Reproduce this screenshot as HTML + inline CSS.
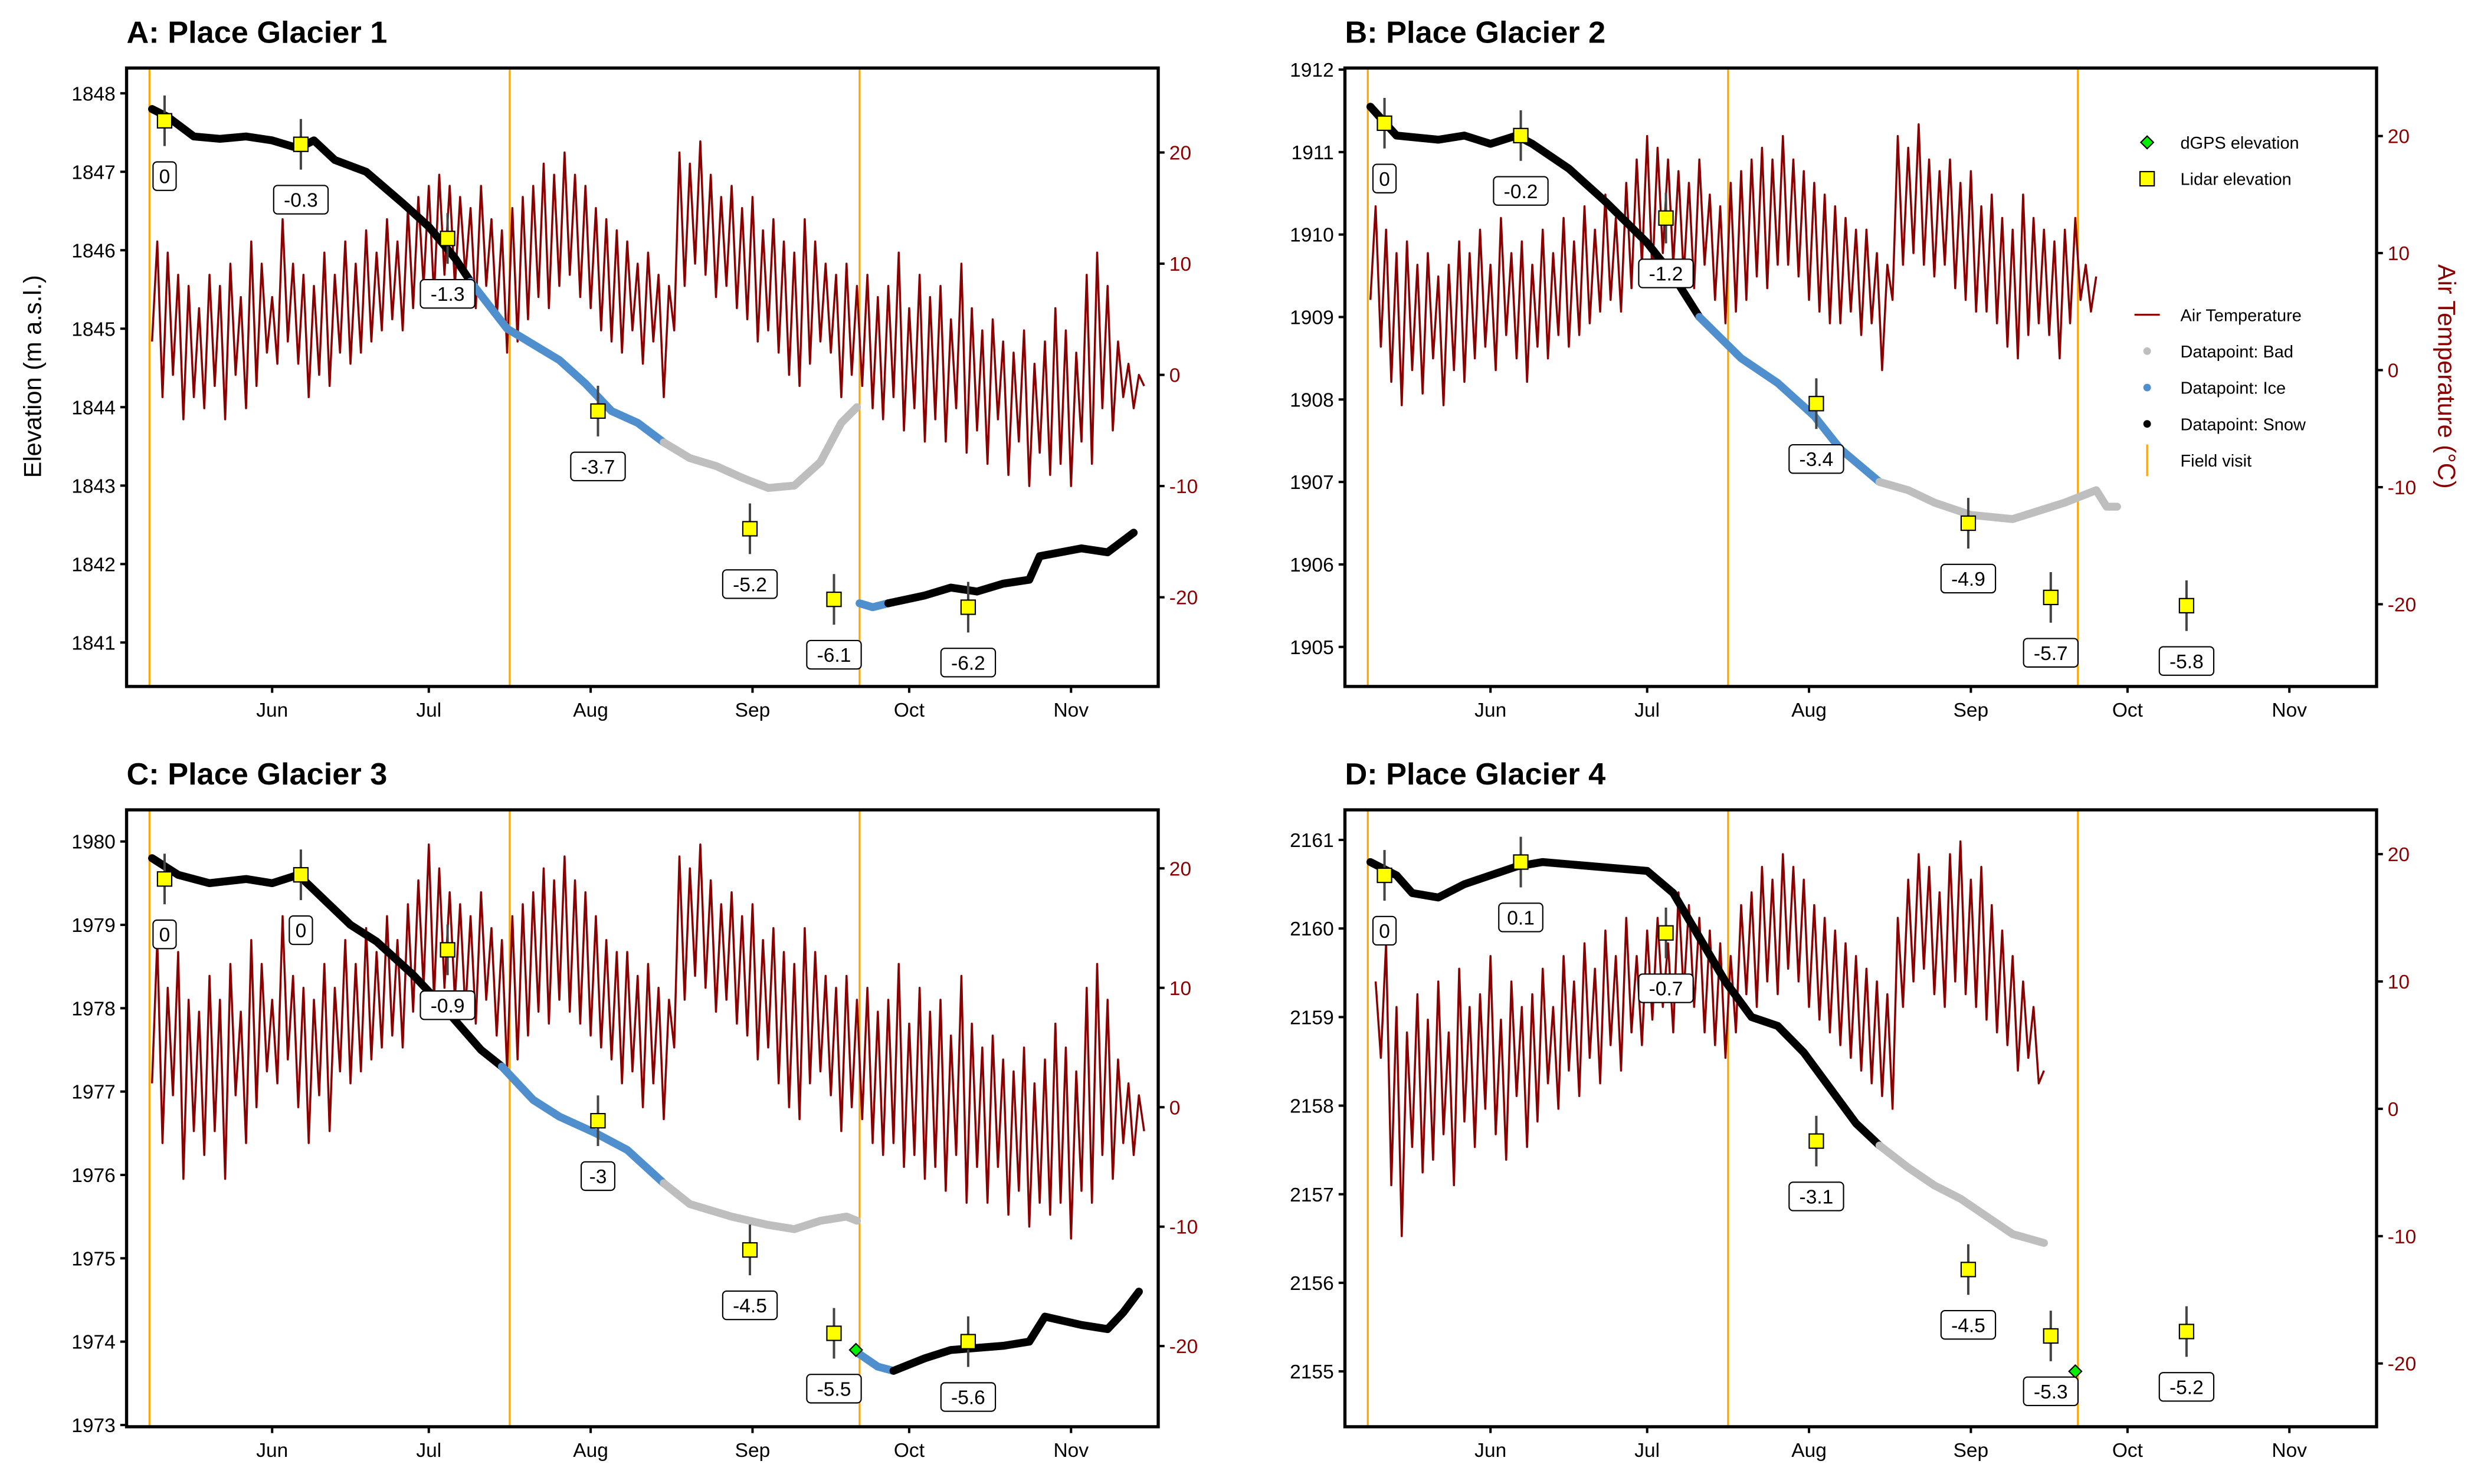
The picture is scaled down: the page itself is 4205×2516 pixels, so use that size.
<!DOCTYPE html>
<html><head><meta charset="utf-8"><title>Place Glacier elevation and air temperature</title>
<style>
html,body{margin:0;padding:0;background:#fff;}
svg{display:block;font-family:"Liberation Sans",Arial,sans-serif;}
</style></head>
<body>
<svg id="chart" width="4205" height="2516" viewBox="0 0 1568 938.2" preserveAspectRatio="none" xmlns="http://www.w3.org/2000/svg">
<rect x="0" y="0" width="1568" height="938.2" fill="#fff"/>
</svg>
<script>
// ===== Data (days counted from Jun 1) =====
const monthLabels = ["Jun","Jul","Aug","Sep","Oct","Nov"];
const monthDays = [0,30,61,92,122,153];
const fieldVisitDays = [-23.5,45.5,112.5];

// Panel A
const A_elevDays = [-23,-20,-15,-10,-5,0,5,8,12,18,25,30,35,38, 38,45,50,55,60,65,70,75, 75,80,85,90,95,100,105,109,112, 112.5,115,118, 118,125,130,135,140,145,147,155,160,165];
const A_elev = [1847.8,1847.7,1847.45,1847.42,1847.45,1847.4,1847.3,1847.4,1847.15,1847.0,1846.6,1846.3,1845.9,1845.6, 1845.6,1845.0,1844.8,1844.6,1844.3,1843.95,1843.8,1843.55, 1843.55,1843.35,1843.25,1843.1,1842.97,1843.0,1843.3,1843.8,1844.0, 1841.5,1841.45,1841.5, 1841.5,1841.6,1841.7,1841.65,1841.75,1841.8,1842.1,1842.2,1842.15,1842.4];
const A_cls = ["S","S","S","S","S","S","S","S","S","S","S","S","S","S","I","I","I","I","I","I","I","I","B","B","B","B","B","B","B","B","B","I","I","I","S","S","S","S","S","S","S","S","S","S"];
const A_lidarDays = [-20.6,5.5,33.6,62.4,91.5,107.6,133.3];
const A_lidarElev = [1847.65,1847.35,1846.15,1843.95,1842.45,1841.55,1841.45];
const A_lidarLabels = ["0","-0.3","-1.3","-3.7","-5.2","-6.1","-6.2"];
const A_gpsDays = [];
const A_gpsElev = [];
const A_tempStart = -23;
const A_temp = [3,12,-2,11,0,9,-4,8,-2,6, -3,9,-1,8,-4,10,0,7,-3,12, -1,10,2,7,1,14,3,10,1,9, -2,8,0,11,-1,9,2,12,1,10, 2,13,3,11,4,14,5,12,4,15, 6,16,8,17,7,18,9,17,8,16, 9,15,6,17,8,14,5,13,2,15, 3,16,5,17,7,19,6,18,8,20, 9,18,7,17,6,15,4,14,3,13, 2,12,4,10,1,11,3,9,-2,8, 4,20,8,19,10,21,9,18,7,16, 8,17,6,15,5,16,3,13,4,14, 2,12,0,11,-1,14,1,12,3,10, 2,9,-2,10,0,8,-1,9,-3,7, -4,8,-2,11,-5,6,-3,9,-6,7, -4,8,-6,5,-3,10,-7,6,-5,4, -8,5,-4,3,-9,2,-6,4,-10,1, -7,3,-9,6,-8,4,-10,2,-6,9, -8,11,-3,8,-5,3,-2,1,-3,0, -1];

// Panel B
const B_elevDays = [-23,-18,-10,-5,0,5,8,15,22,30,35,40, 40,48,55,62,67,74.5, 74.5,80,85,92,100,105,110,116,118,120];
const B_elev = [1911.55,1911.2,1911.15,1911.2,1911.1,1911.2,1911.1,1910.8,1910.4,1909.9,1909.5,1909.0, 1909.0,1908.5,1908.2,1907.8,1907.4,1907.0, 1907.0,1906.9,1906.75,1906.6,1906.55,1906.65,1906.75,1906.9,1906.7,1906.7];
const B_cls = ["S","S","S","S","S","S","S","S","S","S","S","S","I","I","I","I","I","I","B","B","B","B","B","B","B","B","B","B"];
const B_lidarDays = [-20.3,5.8,33.6,62.4,91.5,107.3,133.3];
const B_lidarElev = [1911.35,1911.2,1910.2,1907.95,1906.5,1905.6,1905.5];
const B_lidarLabels = ["0","-0.2","-1.2","-3.4","-4.9","-5.7","-5.8"];
const B_gpsDays = [];
const B_gpsElev = [];
const B_tempStart = -23;
const B_temp = [6,14,2,12,-1,10,-3,11,0,9, -2,10,1,8,-3,9,0,11,-1,10, 1,12,2,9,0,13,3,10,1,11, -1,9,2,12,1,10,3,13,2,11, 3,14,4,12,5,15,6,13,5,16, 7,18,9,20,8,19,10,18,9,17, 8,16,7,18,9,15,6,14,4,16, 5,17,6,18,8,19,7,18,9,20, 9,18,8,17,6,16,5,15,4,14, 4,13,5,12,3,12,4,10,0,9, 6,20,9,19,10,21,9,18,8,17, 9,18,7,16,6,17,5,14,5,15, 4,13,2,12,1,15,3,13,4,12, 3,11,1,12,4,13,6,9,5,8];

// Panel C
const C_elevDays = [-23,-18,-12,-5,0,5,10,15,20,27,33,40,44, 44,50,55,62,68,75, 75,80,88,95,100,105,110,112, 112.5,116,119, 119,125,130,140,145,148,155,160,163,166];
const C_elev = [1979.8,1979.6,1979.5,1979.55,1979.5,1979.6,1979.3,1979.0,1978.8,1978.4,1978.0,1977.5,1977.3, 1977.3,1976.9,1976.7,1976.5,1976.3,1975.9, 1975.9,1975.65,1975.5,1975.4,1975.35,1975.45,1975.5,1975.45, 1973.85,1973.7,1973.65, 1973.65,1973.8,1973.9,1973.95,1974.0,1974.3,1974.2,1974.15,1974.35,1974.6];
const C_cls = ["S","S","S","S","S","S","S","S","S","S","S","S","S","I","I","I","I","I","I","B","B","B","B","B","B","B","B","I","I","I","S","S","S","S","S","S","S","S","S","S"];
const C_lidarDays = [-20.6,5.5,33.6,62.4,91.5,107.6,133.3];
const C_lidarElev = [1979.55,1979.6,1978.7,1976.65,1975.1,1974.1,1974.0];
const C_lidarLabels = ["0","0","-0.9","-3","-4.5","-5.5","-5.6"];
const C_gpsDays = [111.8];
const C_gpsElev = [1973.9];
const C_tempStart = -23;
const C_temp = [2,14,-3,10,1,13,-6,9,-2,8, -4,11,-2,9,-6,12,1,8,-3,14, 0,12,3,9,2,16,4,11,0,10, -3,9,1,12,-2,10,3,14,2,12, 3,15,4,13,5,16,6,14,5,17, 8,19,10,22,9,20,10,18,9,17, 8,16,7,18,9,15,6,14,3,16, 4,17,6,18,8,20,7,19,9,21, 8,19,7,18,6,16,5,14,4,13, 2,13,3,11,0,12,2,10,-1,9, 5,21,9,20,11,22,10,19,8,17, 9,18,7,16,6,17,4,14,5,15, 2,13,0,12,-1,15,2,13,3,11, 1,10,-2,11,0,9,-1,10,-3,8, -4,9,-3,12,-5,7,-4,10,-6,8, -5,9,-7,6,-4,11,-8,7,-5,5, -8,6,-5,4,-9,3,-7,5,-10,2, -8,4,-9,7,-8,5,-11,3,-7,10, -8,12,-4,9,-6,4,-3,2,-4,1, -2];

// Panel D
const D_elevDays = [-23,-18,-15,-10,-5,0,5,10,20,30,35,40,45,50,55,60,65,70,74.5, 74.5,80,85,90,95,100,106];
const D_elev = [2160.75,2160.6,2160.4,2160.35,2160.5,2160.6,2160.7,2160.75,2160.7,2160.65,2160.4,2159.9,2159.4,2159.0,2158.9,2158.6,2158.2,2157.8,2157.55, 2157.55,2157.3,2157.1,2156.95,2156.75,2156.55,2156.45];
const D_cls = ["S","S","S","S","S","S","S","S","S","S","S","S","S","S","S","S","S","S","S","B","B","B","B","B","B","B"];
const D_lidarDays = [-20.3,5.8,33.6,62.4,91.5,107.3,133.3];
const D_lidarElev = [2160.6,2160.75,2159.95,2157.6,2156.15,2155.4,2155.45];
const D_lidarLabels = ["0","0.1","-0.7","-3.1","-4.5","-5.3","-5.2"];
const D_gpsDays = [112];
const D_gpsElev = [2155.0];
const D_tempStart = -22;
const D_temp = [10,4,13,-6,8,-10,6,-3,9,-5, 7,-4,10,-2,6,-6,11,-1,8,-3, 9,0,12,-2,7,-4,10,1,8,-3, 9,-1,11,2,8,0,12,3,10,1, 13,4,11,2,14,5,12,3,15,6, 12,5,14,7,15,8,13,6,17,9, 16,8,15,6,14,5,13,4,12,6, 16,9,17,8,19,10,18,9,20,11, 19,10,18,8,16,7,15,6,14,5, 13,4,12,3,11,2,10,1,9,0, 15,8,18,10,20,11,19,9,17,8, 20,10,21,9,18,8,19,7,16,6, 14,5,12,3,10,4,8,2,3];

const A_elevTicks=[1841,1842,1843,1844,1845,1846,1847,1848];
const B_elevTicks=[1905,1906,1907,1908,1909,1910,1911,1912];
const C_elevTicks=[1973,1974,1975,1976,1977,1978,1979,1980];
const D_elevTicks=[2155,2156,2157,2158,2159,2160,2161];
const tempTicks=[-20,-10,0,10,20];

// ===== Drawing =====
const NS="http://www.w3.org/2000/svg";
const svg=document.getElementById('chart');
function mk(tag,attrs,parent){const e=document.createElementNS(NS,tag);for(const k in attrs)e.setAttribute(k,attrs[k]);(parent||svg).appendChild(e);return e;}
const RED="#8B0000", COL={S:"#000000",I:"#4F8FCE",B:"#BEBEBE"};

function drawPanel(cfg,d){
  const g=mk('g',{});
  
  
  const X=day=>cfg.jun+day*3.3;
  const YE=e=>cfg.eRefY+(cfg.eRef-e)*cfg.ePer;
  const YT=t=>cfg.tZeroY-t*cfg.tPer;
  const title=mk('text',{x:cfg.x0,y:cfg.y0-16,'font-size':19.5,'font-weight':'bold',fill:'#000'},g);
  title.textContent=cfg.title;
  
  
  const cp=mk('clipPath',{id:'clip'+cfg.id},g);
  mk('rect',{x:cfg.x0,y:cfg.y0,width:cfg.x1-cfg.x0,height:cfg.y1-cfg.y0},cp);
  const plot=mk('g',{'clip-path':'url(#clip'+cfg.id+')'},g);
  fieldVisitDays.forEach(fd=>{
    const l=mk('line',{x1:X(fd),x2:X(fd),y1:cfg.y0,y2:cfg.y1,stroke:'#FFA500','stroke-width':1.2},plot);
    
    
  });
  const pts=d.temp.map((t,i)=>X(d.tempStart+i).toFixed(2)+','+YT(t).toFixed(2)).join(' ');
  const tl=mk('polyline',{points:pts,fill:'none',stroke:RED,'stroke-width':1.3,'stroke-linejoin':'round'},plot);
  
  
  let i=0;
  while(i<d.days.length){
    let j=i;while(j+1<d.days.length&&d.cls[j+1]===d.cls[i])j++;
    const p=[];for(let k=i;k<=j;k++)p.push(X(d.days[k]).toFixed(2)+','+YE(d.elev[k]).toFixed(2));
    const s=mk('polyline',{points:p.join(' '),fill:'none',stroke:COL[d.cls[i]],'stroke-width':5,'stroke-linecap':'round','stroke-linejoin':'round'},plot);
    
    
    i=j+1;
  }
  d.gpsDays.forEach((gd,k)=>{
    const x=X(gd),y=YE(d.gpsElev[k]);
    const p=mk('polygon',{points:`${x},${y-4} ${x+4},${y} ${x},${y+4} ${x-4},${y}`,fill:'#00EE00',stroke:'#000','stroke-width':0.8},g);
    
    
  });
  d.lidarDays.forEach((ld,k)=>{
    const x=X(ld),y=YE(d.lidarElev[k]);
    const eb=mk('line',{x1:x,x2:x,y1:y-16,y2:y+16,stroke:'#444','stroke-width':1.5},g);
    
    
    const r=mk('rect',{x:x-4.5,y:y-4.5,width:9,height:9,fill:'#FFFF00',stroke:'#000','stroke-width':0.8},g);
    
    
    const lab=d.lidarLabels[k];
    const w=lab.length*6.6+8;
    const br=mk('rect',{x:x-w/2,y:y+26,width:w,height:18,rx:2.5,fill:'#fff',stroke:'#000','stroke-width':0.8},g);
    
    
    const t=mk('text',{x:x,y:y+39.5,'font-size':12.5,'text-anchor':'middle',fill:'#000'},g);
    t.textContent=lab;
    
    
  });
  const fr=mk('rect',{x:cfg.x0,y:cfg.y0,width:cfg.x1-cfg.x0,height:cfg.y1-cfg.y0,fill:'none',stroke:'#000','stroke-width':2},g);
  
  
  d.elevTicks.forEach(v=>{
    const y=YE(v);
    mk('line',{x1:cfg.x0-4,x2:cfg.x0,y1:y,y2:y,stroke:'#000','stroke-width':1.5},g);
    const t=mk('text',{x:cfg.x0-7,y:y+4.5,'font-size':12.5,'text-anchor':'end',fill:'#000'},g);
    t.textContent=v;
    
    
  });
  tempTicks.forEach(v=>{
    const y=YT(v);
    mk('line',{x1:cfg.x1,x2:cfg.x1+4,y1:y,y2:y,stroke:'#000','stroke-width':1.5},g);
    const t=mk('text',{x:cfg.x1+7,y:y+4.5,'font-size':12.5,fill:RED},g);
    t.textContent=v;
    
    
  });
  monthDays.forEach((md,k)=>{
    const x=X(md);
    mk('line',{x1:x,x2:x,y1:cfg.y1,y2:cfg.y1+4,stroke:'#000','stroke-width':1.5},g);
    const t=mk('text',{x:x,y:cfg.y1+19,'font-size':12.5,'text-anchor':'middle',fill:'#000'},g);
    t.textContent=monthLabels[k];
    
    
  });
}

drawPanel({id:'A',name:'panel-a',title:'A: Place Glacier 1',x0:80,y0:43,x1:732,y1:434,jun:172,eRef:1848,eRefY:59,ePer:49.6,tZeroY:237,tPer:7.03},
 {days:A_elevDays,elev:A_elev,cls:A_cls,lidarDays:A_lidarDays,lidarElev:A_lidarElev,lidarLabels:A_lidarLabels,gpsDays:A_gpsDays,gpsElev:A_gpsElev,temp:A_temp,tempStart:A_tempStart,elevTicks:A_elevTicks});
drawPanel({id:'B',name:'panel-b',title:'B: Place Glacier 2',x0:850,y0:43,x1:1502,y1:434,jun:942,eRef:1912,eRefY:44,ePer:52.14,tZeroY:234,tPer:7.4},
 {days:B_elevDays,elev:B_elev,cls:B_cls,lidarDays:B_lidarDays,lidarElev:B_lidarElev,lidarLabels:B_lidarLabels,gpsDays:B_gpsDays,gpsElev:B_gpsElev,temp:B_temp,tempStart:B_tempStart,elevTicks:B_elevTicks});
drawPanel({id:'C',name:'panel-c',title:'C: Place Glacier 3',x0:80,y0:512,x1:732,y1:902,jun:172,eRef:1980,eRefY:532,ePer:52.7,tZeroY:700,tPer:7.55},
 {days:C_elevDays,elev:C_elev,cls:C_cls,lidarDays:C_lidarDays,lidarElev:C_lidarElev,lidarLabels:C_lidarLabels,gpsDays:C_gpsDays,gpsElev:C_gpsElev,temp:C_temp,tempStart:C_tempStart,elevTicks:C_elevTicks});
drawPanel({id:'D',name:'panel-d',title:'D: Place Glacier 4',x0:850,y0:512,x1:1502,y1:902,jun:942,eRef:2161,eRefY:531,ePer:56,tZeroY:701,tPer:8.05},
 {days:D_elevDays,elev:D_elev,cls:D_cls,lidarDays:D_lidarDays,lidarElev:D_lidarElev,lidarLabels:D_lidarLabels,gpsDays:D_gpsDays,gpsElev:D_gpsElev,temp:D_temp,tempStart:D_tempStart,elevTicks:D_elevTicks});

const yt=mk('text',{x:0,y:0,'font-size':15.5,'text-anchor':'middle',fill:'#000',transform:'translate(26,238) rotate(-90)'});
yt.textContent='Elevation (m a.s.l.)';


const yt2=mk('text',{x:0,y:0,'font-size':15.5,'text-anchor':'middle',fill:RED,transform:'translate(1541,238) rotate(90)'});
yt2.textContent='Air Temperature (°C)';



const lg=mk('g',{});


const legendNames=['dGPS elevation','Lidar elevation','Air Temperature','Datapoint: Bad','Datapoint: Ice','Datapoint: Snow','Field visit'];
const legendY=[90,113,199,222,245,268,291];
legendNames.forEach((n,k)=>{
  const y=legendY[k],x=1357;
  let m;
  if(k===0)m=mk('polygon',{points:`${x},${y-4} ${x+4},${y} ${x},${y+4} ${x-4},${y}`,fill:'#00EE00',stroke:'#000','stroke-width':0.8},lg);
  else if(k===1)m=mk('rect',{x:x-4.5,y:y-4.5,width:9,height:9,fill:'#FFFF00',stroke:'#000','stroke-width':0.8},lg);
  else if(k===2)m=mk('line',{x1:x-8,x2:x+8,y1:y,y2:y,stroke:RED,'stroke-width':1.2},lg);
  else if(k===6)m=mk('line',{x1:x,x2:x,y1:y-10,y2:y+10,stroke:'#FFA500','stroke-width':1.2},lg);
  else m=mk('circle',{cx:x,cy:y,r:2.4,fill:[COL.B,COL.I,COL.S][k-3]},lg);
  
  
  const t=mk('text',{x:1378,y:y+4,'font-size':10.8,fill:'#000'},lg);
  t.textContent=n;
  
  
});
</script>
</body></html>
